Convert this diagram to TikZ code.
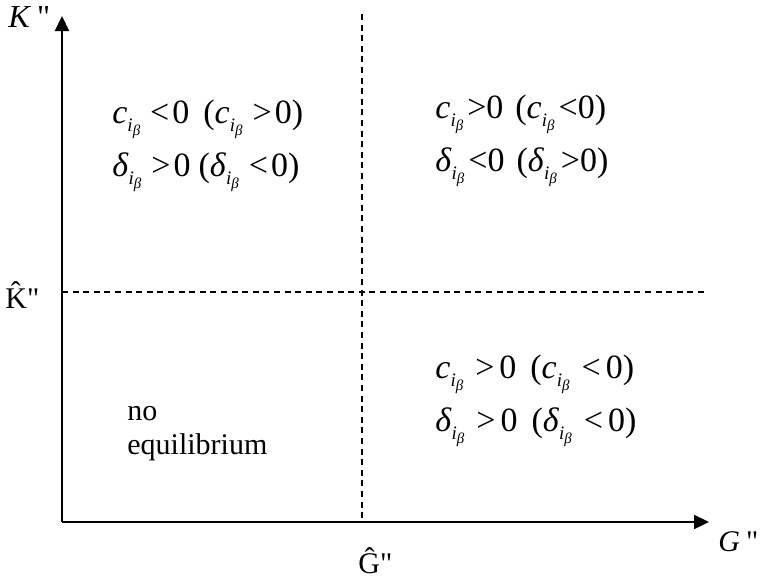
\documentclass[tikz,border=0pt]{standalone}
\usepackage{fontspec}
\setmainfont{Liberation Serif}[Ligatures=TeXOff]
\usetikzlibrary{arrows.meta}
\usetikzlibrary{positioning}
\newcommand{\ibsub}{\raisebox{-4.4pt}{\fontsize{9.5}{9.5}\selectfont\textit{i}\raisebox{-2pt}{\fontsize{7.5}{7.5}\selectfont\textit{β}}}}
\newcommand{\cib}{\textit{c}\ibsub}
\newcommand{\dib}{\textit{δ}\ibsub}

\begin{document}
\begin{tikzpicture}[x=0.5pt, y=-0.5pt, >={Triangle[length=7.5pt,width=7pt]},
    region/.style={anchor=base west, inner sep=0pt, font=\fontsize{17}{20}\selectfont},
    axlabel/.style={anchor=base west, inner sep=0pt, font=\fontsize{15}{18}\selectfont}]
        \useasboundingbox (0,0) rectangle (763,578);
        % axes
        \coordinate (O) at (62,522);
        \coordinate (ytop) at (62,16);
        \coordinate (xend) at (709,522);
        \draw[->, line width=1.1pt] (O) -- (ytop);
        \draw[->, line width=1.1pt] (O) -- (xend);
        % threshold lines
        \coordinate (Gtop) at (362,14);
        \coordinate (Gbot) at (362,520);
        \coordinate (Kleft) at (62,292);
        \coordinate (Kright) at (708,292);
        \draw[line width=0.55pt, dash pattern=on 3pt off 2.3pt] (Gtop) -- (Gbot);
        \draw[line width=0.55pt, dash pattern=on 3pt off 2.3pt] (Kleft) -- (Kright);
        % axis labels
        \node[axlabel, font=\fontsize{16}{18}\selectfont] (Klab) at (8,27) {\textit{K}\kern3pt"};
        \node[axlabel] (Khat) at (5,308) {\^{K}"};
        \node[axlabel] (Ghat) at (358,573) {\^{G}"};
        \node[axlabel] (Glab) at (718,551) {\textit{G}\kern3pt"};
        % upper left
        \node[region] (ulc) at (112,123) {\cib\kern5pt<\kern1.5pt0\kern7pt(\cib\kern5pt>\kern1.5pt0)};
        \node[region] (uld) at (112,176) {\dib\kern5pt>\kern1.5pt0\kern4pt(\dib\kern5pt<\kern1.5pt0)};
        % upper right
        \node[region] (urc) at (435,118) {\cib\kern2pt>0\kern6pt(\cib\kern2pt<0)};
        \node[region] (urd) at (435,171) {\dib\kern2pt<0\kern6pt(\dib\kern2pt>0)};
        % lower right
        \node[region] (lrc) at (435,378) {\cib\kern6pt>\kern2.5pt0\kern7pt(\cib\kern6pt<\kern2.5pt0)};
        \node[region] (lrd) at (435,431) {\dib\kern6pt>\kern2.5pt0\kern7pt(\dib\kern6pt<\kern2.5pt0)};
        % lower left
        \node[axlabel] (noeq) at (127,420) {no};
        \node[axlabel] (equil) at (127,454) {equilibrium};
    \end{tikzpicture}
\end{document}
